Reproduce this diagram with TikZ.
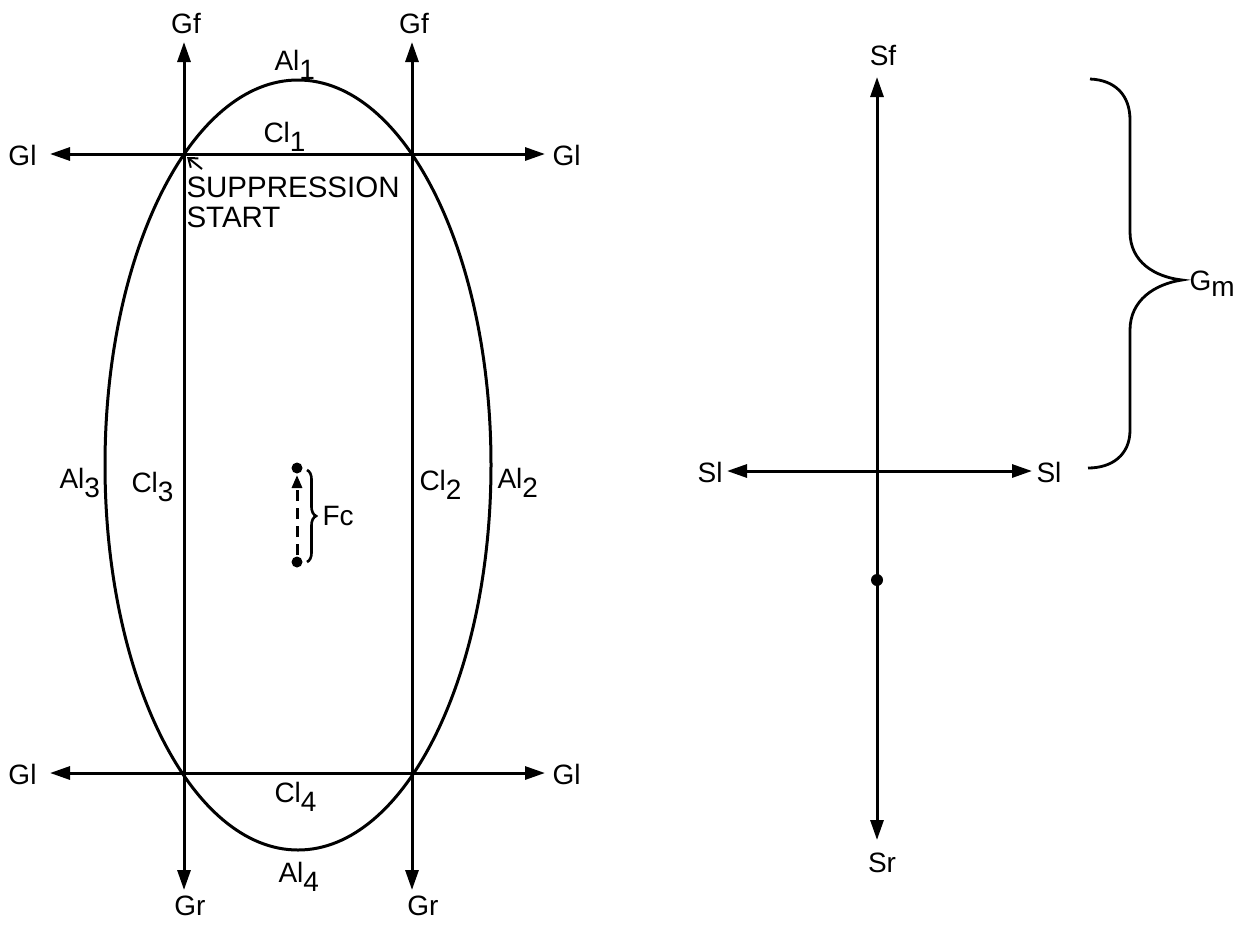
\documentclass[tikz,border=0pt]{standalone}
\usepackage{fontspec}
\setmainfont{Liberation Sans}
\usetikzlibrary{arrows.meta,decorations.pathreplacing}
\newcommand\lowd[1]{\raisebox{-0.33em}{#1}}
\begin{document}
\begin{tikzpicture}[x=1pt,y=-1pt,line width=3pt,
  lbl/.style={font=\fontsize{28}{31}\selectfont,inner sep=0pt},
  dbl/.style={{Triangle[length=20pt,width=13pt]}-{Triangle[length=20pt,width=13pt]}},
  dot/.style={circle,fill=black,inner sep=0pt,minimum size=12pt},
  thinarr/.style={line width=2pt,-{Straight Barb[length=8pt,width=12pt]}},
  bracel/.style={line width=2.6pt}
]
\useasboundingbox (0,0) rectangle (1255,924);

% ---------- left figure ----------
\coordinate (lt) at (184,42);  \coordinate (lb) at (184,890);
\coordinate (rt) at (412,42);  \coordinate (rb) at (412,890);
\coordinate (hl1) at (50,154); \coordinate (hr1) at (545,154);
\coordinate (hl4) at (50,773); \coordinate (hr4) at (545,773);

\draw (298,465) ellipse [x radius=193pt, y radius=385pt];
\draw[dbl] (lt) -- (lb);
\draw[dbl] (rt) -- (rb);
\draw[dbl] (hl1) -- (hr1);
\draw[dbl] (hl4) -- (hr4);

\node[lbl] (gf1) at (186,24) {Gf};
\node[lbl] (gf2) at (414,24) {Gf};
\node[lbl] (gr1) at (190,906) {Gr};
\node[lbl] (gr2) at (423,906) {Gr};
\node[lbl,anchor=east] (gl1) at (38,155) {Gl};
\node[lbl,anchor=west] (gl2) at (551,155) {Gl};
\node[lbl,anchor=east] (gl3) at (38,774) {Gl};
\node[lbl,anchor=west] (gl4) at (551,774) {Gl};

\node[lbl,anchor=base west] (al1) at (273,70) {Al\lowd{1}};
\node[lbl,anchor=base west] (cl1) at (262,142) {Cl\lowd{1}};
\node[lbl,anchor=base west] (cl4) at (273,802) {Cl\lowd{4}};
\node[lbl,anchor=base west] (al4) at (277,882) {Al\lowd{4}};
\node[lbl,anchor=base west] (al3) at (58,488) {Al\lowd{3}};
\node[lbl,anchor=base west] (cl3) at (130,492) {Cl\lowd{3}};
\node[lbl,anchor=base west] (cl2) at (418,490) {Cl\lowd{2}};
\node[lbl,anchor=base west] (al2) at (496,488) {Al\lowd{2}};

\node[lbl,anchor=north west,align=left,font=\fontsize{29.5}{30}\selectfont] (sup) at (185,175) {SUPPRESSION\\START};
\coordinate (supa) at (202,169);
\coordinate (xtip) at (187,157);
\draw[thinarr] (supa) -- (xtip);

% Fc
\node[dot,minimum size=11pt] (ft) at (297,468) {};
\node[dot,minimum size=11pt] (fb) at (297,562) {};
\draw[dash pattern=on 11pt off 7pt,-{Triangle[length=13pt,width=10pt]}] (fb) -- (ft);
\draw[bracel,decorate,decoration={brace,amplitude=9pt}] (307,470) -- (307,562);
\node[lbl,anchor=west] (fc) at (321,516) {Fc};

% ---------- right figure ----------
\coordinate (st) at (877,77);  \coordinate (sb) at (877,840);
\coordinate (sl1) at (727,471); \coordinate (sl2) at (1032,471);
\draw[dbl] (st) -- (sb);
\draw[dbl] (sl1) -- (sl2);
\node[dot] (sd) at (877,580) {};
\node[lbl] (sf) at (883,56) {Sf};
\node[lbl] (sr) at (882,863) {Sr};
\node[lbl,anchor=east] (slL) at (724,472) {Sl};
\node[lbl,anchor=west] (slR) at (1035,472) {Sl};

\coordinate (gtop) at (1090,79);
\coordinate (gbot) at (1088,468);
\coordinate (gtip) at (1182,280);
\draw[line width=2.8pt] (gtop) .. controls (1115,80) and (1130,95) .. (1130,120)
  -- (1130,232) .. controls (1130,262) and (1155,277) .. (gtip)
  .. controls (1155,284) and (1130,300) .. (1130,330)
  -- (1130,430) .. controls (1130,455) and (1112,468) .. (gbot);
\node[lbl,anchor=west] (gm) at (1188,284) {G\raisebox{-0.2em}{m}};
\end{tikzpicture}
\end{document}
